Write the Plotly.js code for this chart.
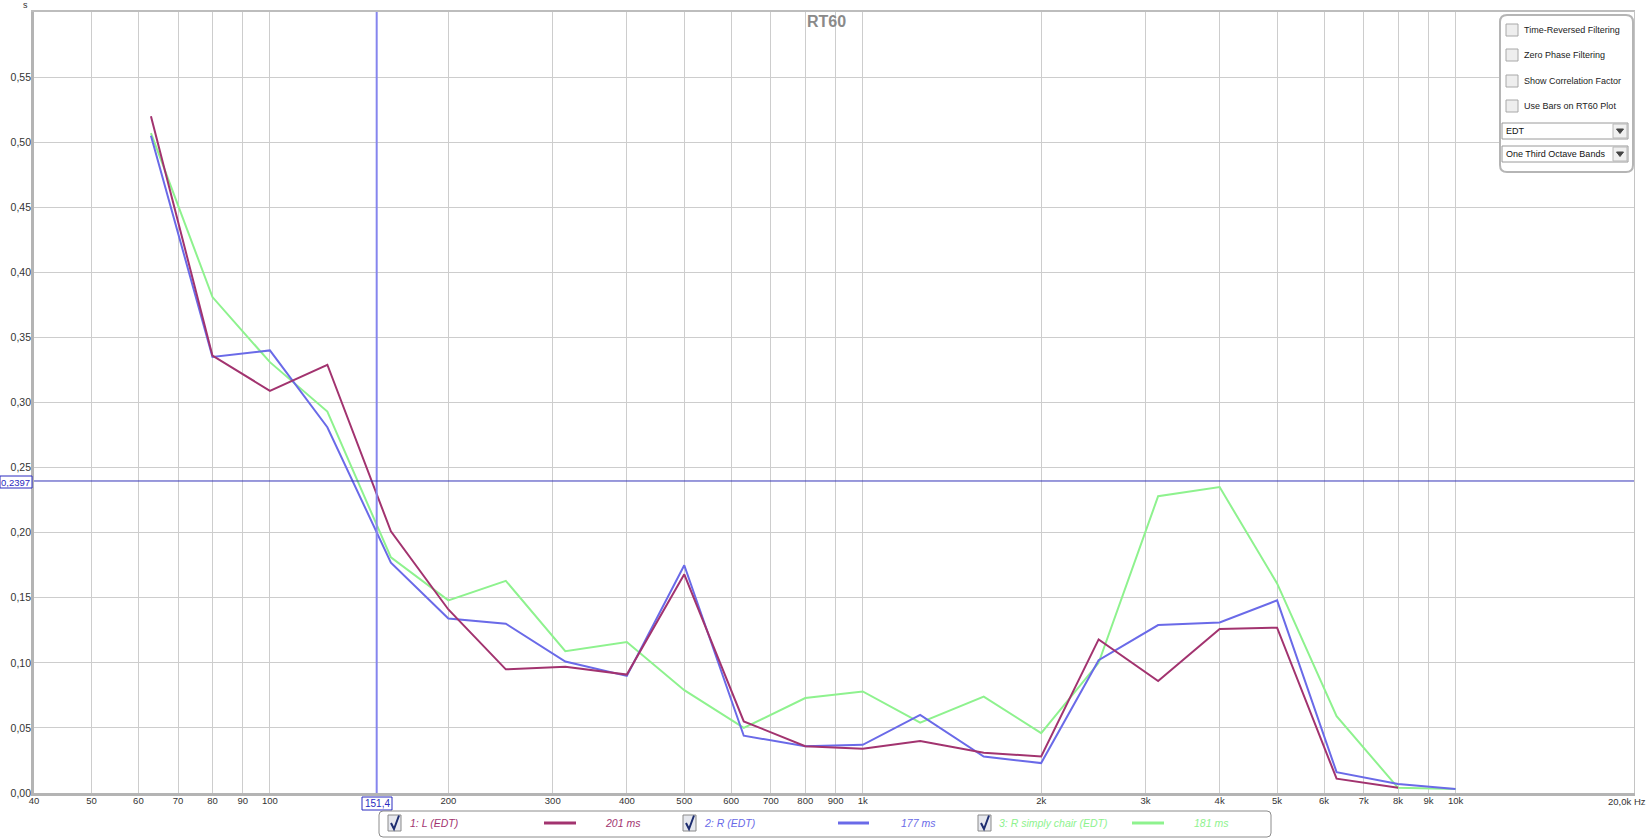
<!DOCTYPE html>
<html>
<head>
<meta charset="utf-8">
<script src="https://cdn.plot.ly/plotly-3.0.1.min.js"></script>
<style>html,body{margin:0;padding:0;background:#fff;}#chart{width:1651px;height:838px;}</style>
</head>
<body>
<div id="chart"></div>
<script>
// ---- data (one-third octave bands, EDT in seconds) ----
const freqs = [63,80,100,125,160,200,250,315,400,500,630,800,1000,1250,1600,2000,2500,3150,4000,5000,6300,8000,10000];
const edtL = [0.520,0.336,0.309,0.329,0.201,0.141,0.095,0.097,0.091,0.168,0.055,0.036,0.034,0.040,0.031,0.028,0.118,0.086,0.126,0.127,0.011,0.004];
const edtR = [0.505,0.335,0.340,0.281,0.177,0.134,0.130,0.101,0.090,0.175,0.044,0.036,0.037,0.060,0.028,0.023,0.102,0.129,0.131,0.148,0.016,0.007,0.003];
const edtChair = [0.507,0.381,0.331,0.293,0.181,0.148,0.163,0.109,0.116,0.079,0.050,0.073,0.078,0.054,0.074,0.046,0.100,0.228,0.235,0.161,0.059,0.004,0.003];
const seriesNames = ["1: L (EDT)", "2: R (EDT)", "3: R simply chair (EDT)"];
const seriesSummary = ["201 ms", "177 ms", "181 ms"];
const xTickVals = [40,50,60,70,80,90,100,200,300,400,500,600,700,800,900,1000,2000,3000,4000,5000,6000,7000,8000,9000,10000,20000];
const xTickText = ["40","50","60","70","80","90","100","200","300","400","500","600","700","800","900","1k","2k","3k","4k","5k","6k","7k","8k","9k","10k",""];
const yTickVals = [0,0.05,0.10,0.15,0.20,0.25,0.30,0.35,0.40,0.45,0.50,0.55];
const yTickText = ["0,00","0,05","0,10","0,15","0,20","0,25","0,30","0,35","0,40","0,45","0,50","0,55"];
const cursorFreq = 151.4, cursorVal = 0.2397;
const cursorFreqLabel = "151,4", cursorValLabel = "0,2397";
const panelChecks = ["Time-Reversed Filtering","Zero Phase Filtering","Show Correlation Factor","Use Bars on RT60 Plot"];
const panelDrops = ["EDT","One Third Octave Bands"];

// ---- layout helpers (pixel -> paper) ----
const L = 34, R = 1634, T = 12, B = 793;
const px = x => (x - L) / (R - L);
const py = y => (B - y) / (B - T);
const colors = ["#a2336f", "#6a6ae8", "#8ef28e"];
const FONT = "Liberation Sans, Arial, sans-serif";

const shapes = [];
const annotations = [];
function rect(x0,y0,x1,y1,line,fill,layer){
  shapes.push({type:'rect',xref:'paper',yref:'paper',x0:px(x0),x1:px(x1),y0:py(y1),y1:py(y0),
    line:line||{width:0},fillcolor:fill||'rgba(0,0,0,0)',layer:layer||'above'});
}
function path(pts,line,fill,close){
  let d = pts.map((p,i)=>(i?'L':'M')+px(p[0])+','+py(p[1])).join(' ') + (close?' Z':'');
  shapes.push({type:'path',xref:'paper',yref:'paper',path:d,line:line,fillcolor:fill||'rgba(0,0,0,0)',layer:'above'});
}
function rrect(x0,y0,x1,y1,r,line,fill){
  const X=px, Y=py;
  let d = `M${X(x0+r)},${Y(y0)} L${X(x1-r)},${Y(y0)} Q${X(x1)},${Y(y0)} ${X(x1)},${Y(y0+r)} L${X(x1)},${Y(y1-r)} Q${X(x1)},${Y(y1)} ${X(x1-r)},${Y(y1)} L${X(x0+r)},${Y(y1)} Q${X(x0)},${Y(y1)} ${X(x0)},${Y(y1-r)} L${X(x0)},${Y(y0+r)} Q${X(x0)},${Y(y0)} ${X(x0+r)},${Y(y0)} Z`;
  shapes.push({type:'path',xref:'paper',yref:'paper',path:d,line:line,fillcolor:fill||'rgba(0,0,0,0)',layer:'above'});
}
function text(t,x,y,opts){
  opts = opts||{};
  annotations.push({text:t,xref:'paper',yref:'paper',x:px(x),y:py(y),showarrow:false,
    xanchor:opts.xanchor||'left',yanchor:opts.yanchor||'middle',
    font:{family:opts.family||FONT,size:opts.size||10,color:opts.color||'#222'}});
}

// frame borders
shapes.push({type:'line',xref:'paper',yref:'paper',x0:px(32.5),x1:px(32.5),y0:py(B+2),y1:py(T-1),line:{color:'#b4b4b4',width:3},layer:'above'});
shapes.push({type:'line',xref:'paper',yref:'paper',x0:px(31),x1:px(R+1),y0:py(B+1.5),y1:py(B+1.5),line:{color:'#b4b4b4',width:3},layer:'above'});
shapes.push({type:'line',xref:'paper',yref:'paper',x0:px(31),x1:px(R+1),y0:py(T-1),y1:py(T-1),line:{color:'#bdbdbd',width:2},layer:'above'});
shapes.push({type:'line',xref:'paper',yref:'paper',x0:px(R+0.5),x1:px(R+0.5),y0:py(B),y1:py(T-1),line:{color:'#c4c4c4',width:1},layer:'above'});

// cursors (data coordinates)
shapes.push({type:'line',xref:'x',yref:'paper',x0:cursorFreq,x1:cursorFreq,y0:0,y1:1,line:{color:'#8585ee',width:2},layer:'above'});
shapes.push({type:'line',xref:'paper',yref:'y',x0:0,x1:1,y0:cursorVal,y1:cursorVal,line:{color:'#3434b8',width:1},layer:'above'});
// cursor labels
rect(0,476,32,488,{color:'#2a2ac0',width:1},'#ffffff');
text(cursorValLabel,32,482.5,{xanchor:'right',color:'#2a2ac0',size:9.5});
rect(362,797,392,810,{color:'#2a2ac0',width:1},'#ffffff');
text(cursorFreqLabel,377,803.5,{xanchor:'center',color:'#2a2ac0',size:10});

// axis extras
text("20,0k Hz",1627,802,{xanchor:'center',size:9.5,color:'#333'});
text("s",25,5,{xanchor:'center',size:9,color:'#333'});
text("<b>RT60</b>",826,22,{xanchor:'center',size:16,color:'#8a8a8a'});

// bottom legend
rrect(379,811,1271,837,4,{color:'#8c8c8c',width:1},'#ffffff');
const legendX = [[388,408,544,576,643],[683,702,838,869,938],[978,997,1132,1164,1231]];
legendX.forEach((p,i)=>{
  rect(p[0],815,p[0]+13,831,{color:'#8a8a8a',width:1},'#e6e8ee');
  path([[p[0]+3,823],[p[0]+6,829],[p[0]+11,815.5]],{color:'#1d2d70',width:2});
  text('<i>'+seriesNames[i]+'</i>',p[1],823,{color:colors[i],size:10.5});
  shapes.push({type:'line',xref:'paper',yref:'paper',x0:px(p[2]),x1:px(p[3]),y0:py(823),y1:py(823),line:{color:colors[i],width:3},layer:'above'});
  text('<i>'+seriesSummary[i]+'</i>',p[4],823,{xanchor:'right',color:colors[i],size:10.5});
});

// right control panel
rrect(1500,15,1633,172,7,{color:'#b5b5b5',width:2},'#ffffff');
const rowY = [30,55,81,106];
panelChecks.forEach((t,i)=>{
  rect(1506,rowY[i]-6,1518,rowY[i]+6,{color:'#a8a8a8',width:1},'#eeeeee');
  text(t,1522,rowY[i],{size:9,color:'#222'});
});
const dropY = [[123,139],[146,162]];
panelDrops.forEach((t,i)=>{
  const y0 = dropY[i][0], y1 = dropY[i][1];
  rect(1502,y0,1628,y1,{color:'#9a9a9a',width:1},'#ffffff');
  rect(1613,y0+1,1627,y1-1,{color:'#b8b8b8',width:1},'#f0f0f0');
  path([[1616.5,(y0+y1)/2-2],[1623.5,(y0+y1)/2-2],[1620,(y0+y1)/2+2.5]],{color:'#444',width:1},'#444',true);
  text(t,1504,(y0+y1)/2,{size:9,color:'#111'});
});

// traces (drawn from arrays)
const traces = [
  {x:freqs.slice(0,edtChair.length),y:edtChair,name:seriesNames[2],line:{color:colors[2],width:2}},
  {x:freqs.slice(0,edtR.length),y:edtR,name:seriesNames[1],line:{color:colors[1],width:2}},
  {x:freqs.slice(0,edtL.length),y:edtL,name:seriesNames[0],line:{color:colors[0],width:2}}
].map(t=>Object.assign({type:'scatter',mode:'lines',hoverinfo:'skip'},t));

const layout = {
  width:1651,height:838,
  margin:{l:L,r:1651-R,t:T,b:838-B,pad:0},
  paper_bgcolor:'#ffffff',plot_bgcolor:'#ffffff',
  showlegend:false,
  font:{family:FONT,size:10,color:'#333'},
  xaxis:{type:'log',range:[Math.log10(40),Math.log10(20000)],tickvals:xTickVals,ticktext:xTickText,
    showgrid:true,gridcolor:'#cdcdcd',gridwidth:1,zeroline:false,showline:false,ticks:'',
    tickfont:{family:FONT,size:9.5,color:'#333'},fixedrange:true},
  yaxis:{range:[0,0.6],tickvals:yTickVals,ticktext:yTickText,showgrid:true,gridcolor:'#cdcdcd',gridwidth:1,
    zeroline:false,showline:false,ticks:'',ticklabelstandoff:2,tickfont:{family:FONT,size:10.5,color:'#333'},fixedrange:true},
  shapes:shapes,annotations:annotations
};
Plotly.newPlot('chart',traces,layout,{displayModeBar:false,staticPlot:true});
</script>
</body>
</html>
